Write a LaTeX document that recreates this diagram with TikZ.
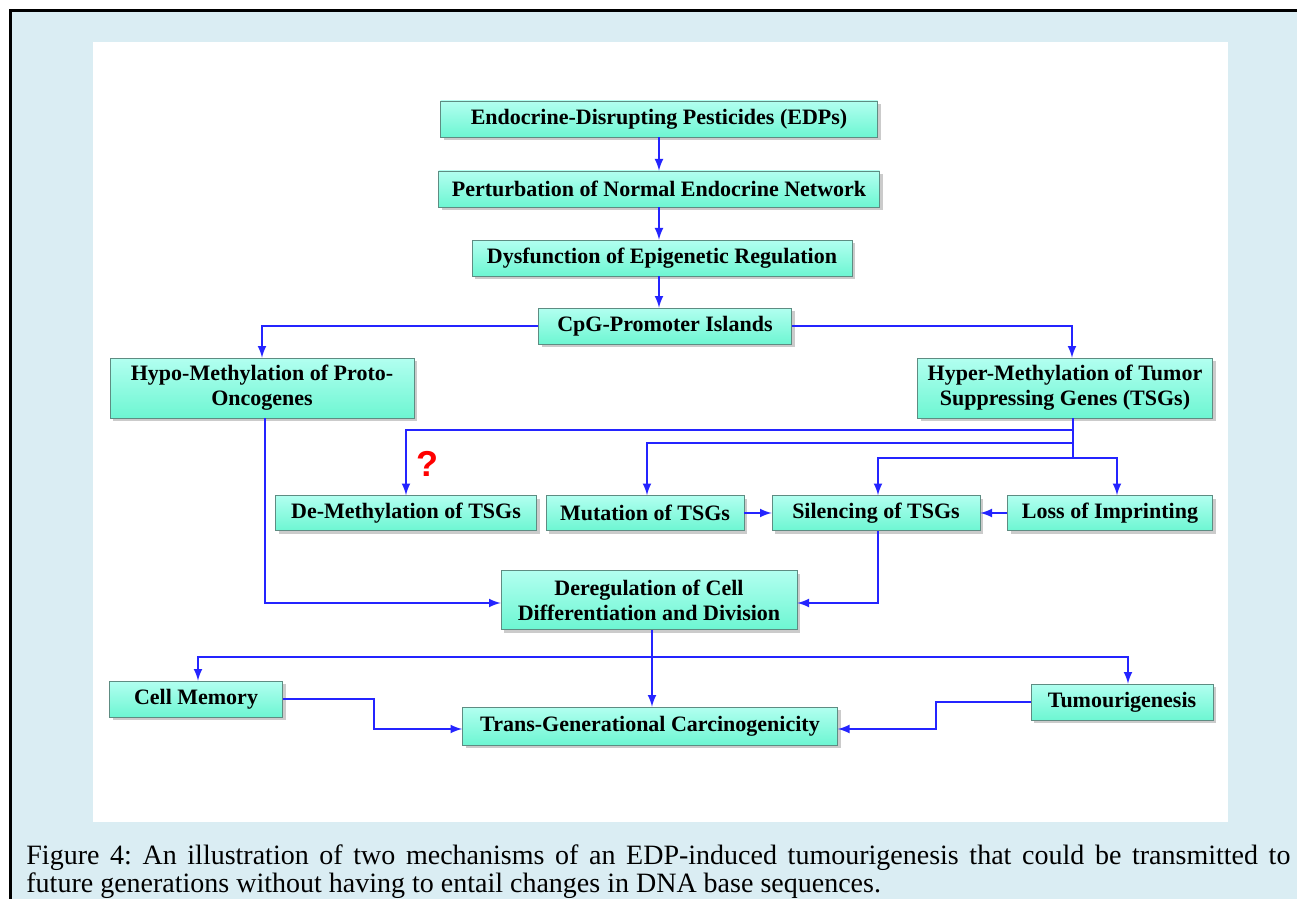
\documentclass[tikz,border=0pt]{standalone}
\usepackage{fontspec}
\setmainfont{Liberation Serif}
\newfontfamily\queryfont{Liberation Sans}
\usetikzlibrary{shadows,arrows}

\definecolor{pageblue}{HTML}{DAEDF3}
\definecolor{boxtop}{HTML}{B2FFF0}
\definecolor{boxbot}{HTML}{6DF6D2}
\definecolor{boxedge}{HTML}{5E8C82}
\definecolor{flowblue}{HTML}{2424FF}

\tikzset{
  stage/.style={draw=boxedge, line width=0.4pt, top color=boxtop, bottom color=boxbot,
    drop shadow={shadow xshift=1.6pt, shadow yshift=-1.6pt, fill=black!40},
    font=\bfseries\fontsize{11}{12.5}\selectfont, text=black, align=center,
    inner sep=0pt, minimum height=18pt},
  flow/.style={draw=flowblue, line width=1pt, -latex},
  wire/.style={draw=flowblue, line width=1pt}
}

\begin{document}
\begin{tikzpicture}[x=0.5pt, y=-0.5pt]
    \useasboundingbox (0,0) rectangle (1297,899);
    \fill[white] (0,0) rectangle (1297,899);
    \fill[pageblue] (10,10) rectangle (1297,899);
    \draw[line width=1.5pt] (10.5,899) -- (10.5,10.5) -- (1297,10.5);
    \fill[white] (93,42) rectangle (1228,822);

    \node[stage, minimum width=218.5pt] (edp) at (659,119) {Endocrine-Disrupting Pesticides (EDPs)};
    \node[stage, minimum width=220.5pt] (pert) at (659,189) {Perturbation of Normal Endocrine Network};
    \node[stage, minimum width=190pt] (dysf) at (662,258) {Dysfunction of Epigenetic Regulation};
    \node[stage, minimum width=126.5pt] (cpg) at (665,326) {CpG-Promoter Islands};
    \node[stage, minimum width=152pt, minimum height=30pt] (hypo) at (262,388) {Hypo-Methylation of Proto-\\Oncogenes};
    \node[stage, minimum width=147.5pt, minimum height=30pt] (hyper) at (1065,388) {Hyper-Methylation of Tumor\\Suppressing Genes (TSGs)};
    \node[stage, minimum width=130.5pt, minimum height=17.5pt] (demeth) at (406,513) {De-Methylation of TSGs};
    \node[stage, minimum width=99pt, minimum height=17.5pt] (mut) at (645,513) {Mutation of TSGs};
    \node[stage, minimum width=104pt, minimum height=17.5pt] (sil) at (876,513) {Silencing of TSGs};
    \node[stage, minimum width=102.5pt, minimum height=17.5pt] (loss) at (1110,513) {Loss of Imprinting};
    \node[stage, minimum width=148pt, minimum height=29.5pt] (dereg) at (649,600) {Deregulation of Cell\\Differentiation and Division};
    \node[stage, minimum width=86.5pt] (cellmem) at (196,699) {Cell Memory};
    \node[stage, minimum width=187.5pt, minimum height=19pt] (trans) at (650,726) {Trans-Generational Carcinogenicity};
    \node[stage, minimum width=91pt] (tumour) at (1122,702) {Tumourigenesis};

    \node[text=red, font=\queryfont\bfseries\fontsize{18}{18}\selectfont] (query) at (427,464) {?};

    \coordinate (fork1) at (1073,430);
    \coordinate (fork2) at (1073,443);
    \coordinate (fork3) at (1073,458);
    \coordinate (spread) at (652,657);
    \coordinate (cmbend) at (374,0);
    \coordinate (tmbend) at (936,0);

    \draw[flow] (edp.south) -- (edp.south |- pert.north);
    \draw[flow] (pert.south) -- (pert.south |- dysf.north);
    \draw[flow] (pert.south |- dysf.south) -- (pert.south |- cpg.north);
    \draw[flow] (cpg.west) -| (hypo.north);
    \draw[flow] (cpg.east) -| ([xshift=3.5pt]hyper.north);

    \draw[wire] (hyper.south -| fork1) -- (fork3);
    \draw[flow] (fork1) -| (demeth.north);
    \draw[flow] (fork2) -| ([xshift=1pt]mut.north);
    \draw[flow] (fork3) -| ([xshift=1pt]sil.north);
    \draw[flow] (fork3) -| ([xshift=3.5pt]loss.north);
    \draw[flow] (mut) -- (sil);
    \draw[flow] (loss) -- (sil);

    \draw[flow] ([xshift=1.5pt]hypo.south) |- ([yshift=-1.5pt]dereg.west);
    \draw[flow] ([xshift=1pt]sil.south) |- ([yshift=-1.5pt]dereg.east);

    \draw[flow] ([xshift=1.5pt]dereg.south) -- ([xshift=1.5pt]dereg.south |- trans.north);
    \draw[flow] (spread) -| ([xshift=1pt]cellmem.north);
    \draw[flow] (spread) -| ([xshift=3pt]tumour.north);
    \draw[flow] (cellmem.east) -- (cellmem.east -| cmbend) |- ([yshift=-1.5pt]trans.west);
    \draw[flow] (tumour.west) -- (tumour.west -| tmbend) |- ([yshift=-1.5pt]trans.east);

    \node[anchor=base west, inner sep=0pt, font=\frenchspacing\fontsize{14}{14}\selectfont] (caption) at (26,864)
        {\parbox[t]{632pt}{Figure 4: An illustration of two mechanisms of an EDP-induced tumourigenesis that could be transmitted to\linebreak future generations without having to entail changes in DNA base sequences.}};
\end{tikzpicture}
\end{document}
